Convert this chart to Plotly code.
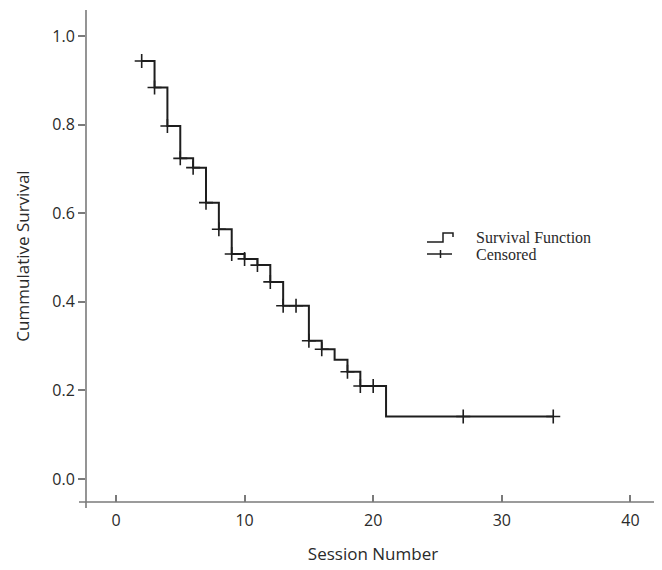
import plotly.graph_objects as go

# Kaplan-Meier survival function (step points)
event_times = [2, 3, 4, 5, 6, 7, 8, 9, 10, 11, 12, 13, 15, 16, 17, 18, 19, 21, 34]
survival = [0.944, 0.884, 0.797, 0.724, 0.703, 0.624, 0.564, 0.508, 0.497, 0.483,
            0.445, 0.391, 0.312, 0.293, 0.269, 0.242, 0.210, 0.141, 0.141]

# Censored observations
censor_times = [2, 3, 4, 5, 6, 7, 8, 9, 10, 11, 12, 13, 14, 15, 16, 18, 19, 20, 27, 34]
censor_surv = [0.944, 0.884, 0.797, 0.724, 0.703, 0.624, 0.564, 0.508, 0.497, 0.483,
               0.445, 0.391, 0.391, 0.312, 0.293, 0.242, 0.210, 0.210, 0.141, 0.141]

x_ticks = [0, 10, 20, 30, 40]
y_ticks = [0.0, 0.2, 0.4, 0.6, 0.8, 1.0]
y_tick_labels = ["0.0", "0.2", "0.4", "0.6", "0.8", "1.0"]

LINE = "#1e1e1e"
AXIS = "#7a7a7a"
TXT = "#2a2a2a"

OFF = 8  # page body margin
W, H = 654, 562
L, R, T, B = 78, 2, 2, 68
pw, ph = W - L - R, H - T - B


def px(xw):
    return (xw - OFF - L) / pw


def py(yw):
    return (H - B - (yw - OFF)) / ph


fig = go.Figure()
fig.add_trace(go.Scatter(
    x=event_times, y=survival, mode="lines", line_shape="hv",
    line=dict(color=LINE, width=2), showlegend=False, hoverinfo="skip"))
fig.add_trace(go.Scatter(
    x=censor_times, y=censor_surv, mode="markers",
    marker=dict(symbol="cross-thin", size=10, line=dict(color=LINE, width=1.6)),
    showlegend=False, hoverinfo="skip"))

shapes = [
    # axis lines with slight overhang
    dict(type="line", xref="paper", yref="paper", x0=px(79), x1=1, y0=0, y1=0,
         line=dict(color=AXIS, width=1.6)),
    dict(type="line", xref="paper", yref="paper", x0=0, x1=0, y0=py(508), y1=1,
         line=dict(color=AXIS, width=1.6)),
    # legend: survival function step glyph
    dict(type="path", xref="paper", yref="paper",
         path=f"M {px(427)},{py(242)} L {px(443)},{py(242)} L {px(443)},{py(233)} "
              f"L {px(453)},{py(233)} L {px(453)},{py(237)}",
         line=dict(color=LINE, width=1.5)),
    # legend: censored glyph
    dict(type="line", xref="paper", yref="paper", x0=px(427), x1=px(452),
         y0=py(254), y1=py(254), line=dict(color=LINE, width=1.5)),
    dict(type="line", xref="paper", yref="paper", x0=px(440.5), x1=px(440.5),
         y0=py(250), y1=py(258), line=dict(color=LINE, width=1.5)),
]

annotations = [
    dict(text="Survival Function", xref="paper", yref="paper", x=px(474), y=py(238),
         xanchor="left", yanchor="middle", showarrow=False,
         font=dict(family="Liberation Serif", size=16, color=TXT)),
    dict(text="Censored", xref="paper", yref="paper", x=px(474), y=py(254),
         xanchor="left", yanchor="middle", showarrow=False,
         font=dict(family="Liberation Serif", size=16, color=TXT)),
]

fig.update_layout(
    width=W, height=H,
    margin=dict(l=L, r=R, t=T, b=B),
    paper_bgcolor="white", plot_bgcolor="white",
    font=dict(family="Open Sans", size=16, color=TXT),
    shapes=shapes, annotations=annotations,
    showlegend=False,
)
fig.update_xaxes(
    range=[-2.33, 42.3], tickvals=x_ticks, ticks="inside", ticklen=7,
    tickcolor=AXIS, tickwidth=1.5, showgrid=False, zeroline=False, showline=False,
    ticklabelstandoff=7,
    title=dict(text="Session Number", font=dict(size=17), standoff=18),
)
fig.update_yaxes(
    range=[-0.052, 1.059], tickvals=y_ticks, ticktext=y_tick_labels, ticks="outside",
    ticklen=7, tickcolor=AXIS, tickwidth=1.5, showgrid=False, zeroline=False,
    showline=False,
    title=dict(text="Cummulative Survival", font=dict(size=17), standoff=18),
)

fig.write_html("out.html")
